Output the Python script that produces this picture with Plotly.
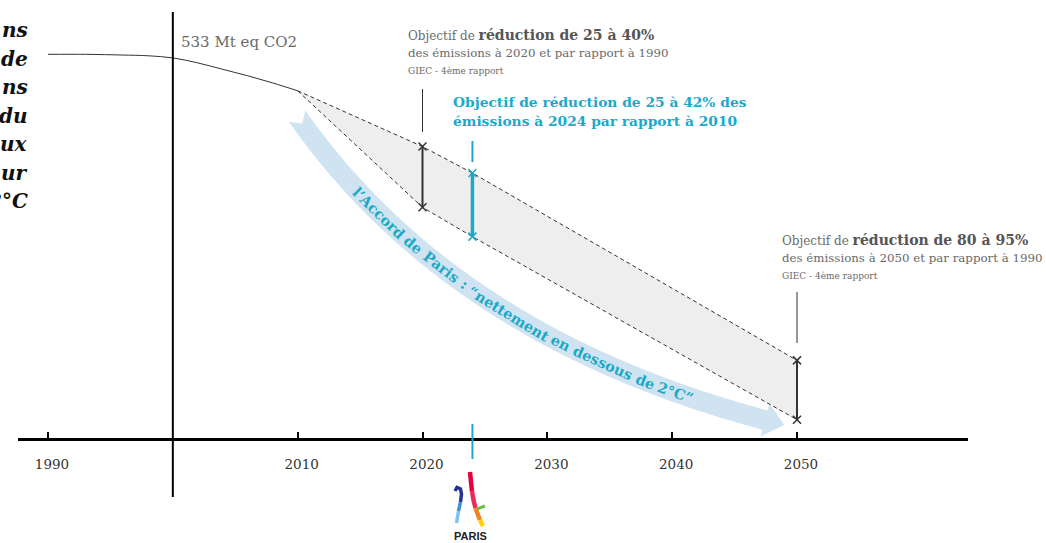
import numpy as np
import plotly.graph_objects as go

W, H = 1046, 543

# ---------------- data ----------------
HIST_YEARS = [1990, 1993, 1996, 1998, 2000, 2002, 2004, 2006, 2008, 2010]
HIST_VALUES = [538, 538, 537, 536, 533, 526, 517, 508, 498, 487]
BASE_YEAR = 2000
BASE_LABEL = "533 Mt eq CO2"

TARGET_YEARS = [2010, 2020, 2024, 2050]
UPPER_VALUES = [487, 409, 372, 110]
LOWER_VALUES = [487, 324, 283, 27]

TICK_YEARS = [1990, 2010, 2020, 2030, 2040, 2050]
TICK_LABELS = ["1990", "2010", "2020", "2030", "2040", "2050"]

ARROW_YEARS = [2009.95, 2022.33, 2047.44]     # quadratic bezier control points
ARROW_VALUES = [451.7, 143.2, 26.6]
ARROW_TEXT = ["l’Accord", "de", "Paris", ":", "“nettement", "en", "dessous", "de", "2°C”"]

LEFT_FRAGMENTS = ["ns", "de", "ns", "du", "ux", "ur", "2°C"]

# ---------------- styling / geometry ----------------
SERIF = "DejaVu Serif"
CYAN = "#1ba9c9"
DARK = "#333333"
GREY_TXT = "#6a6a6a"

PX_PER_YEAR = 12.4833
PX_1990 = 48
AXIS_PY = 439
PX_PER_MT = 0.715
DOM_L, DOM_R = 18, 968

xr0 = 1990 - (PX_1990 - DOM_L) / PX_PER_YEAR
xr1 = 1990 + (DOM_R - PX_1990) / PX_PER_YEAR
yr0 = -(H - AXIS_PY) / PX_PER_MT
yr1 = AXIS_PY / PX_PER_MT


def to_px(year, val):
    return PX_1990 + (np.asarray(year) - 1990) * PX_PER_YEAR, AXIS_PY - np.asarray(val) * PX_PER_MT


def from_px(px, py):
    return 1990 + (np.asarray(px) - PX_1990) / PX_PER_YEAR, (AXIS_PY - np.asarray(py)) / PX_PER_MT


def P(px, py):
    return px / W, 1 - py / H


fig = go.Figure()

# ---------------- arrow (below everything) ----------------
cx, cy = to_px(ARROW_YEARS, ARROW_VALUES)
p0, p1, p2 = [np.array([cx[i], cy[i]]) for i in range(3)]
t = np.linspace(0, 1, 400)[:, None]
pts = (1 - t) ** 2 * p0 + 2 * (1 - t) * t * p1 + t ** 2 * p2
der = 2 * (1 - t) * (p1 - p0) + 2 * t * (p2 - p1)
dirs = der / np.linalg.norm(der, axis=1)[:, None]
nrm = np.column_stack([-dirs[:, 1], dirs[:, 0]])
hw, hh, hl, notch = 10, 17, 20, 9
edge_a = pts + hw * nrm
edge_b = pts - hw * nrm
poly = list(edge_a)
poly.append(p2 + hh * nrm[-1])
poly.append(p2 + hl * dirs[-1])
poly.append(p2 - hh * nrm[-1])
poly += list(edge_b[::-1])
poly.append(p0 + notch * dirs[0])
poly = np.array(poly)
ax_, ay_ = from_px(poly[:, 0], poly[:, 1])
path = "M " + " L ".join(f"{a:.4f},{b:.4f}" for a, b in zip(ax_, ay_)) + " Z"

shapes = [dict(type="path", path=path, xref="x", yref="y", fillcolor="#cfe4f0",
               line=dict(width=0), layer="below")]

# text along the arrow
seg = np.linalg.norm(np.diff(pts, axis=0), axis=1)
arc = np.concatenate([[0], np.cumsum(seg)])


def nearest(px, py):
    return int(np.argmin((pts[:, 0] - px) ** 2 + (pts[:, 1] - py) ** 2))


s_start = arc[nearest(352, 191)]
s_end = arc[nearest(692, 396)]

CW = {"l": 0.40, "’": 0.36, "A": 0.78, "c": 0.60, "o": 0.66, "r": 0.52, "d": 0.72, "e": 0.64,
      "P": 0.76, "a": 0.64, "i": 0.40, "s": 0.56, ":": 0.38, "“": 0.48, "n": 0.72, "t": 0.46,
      "m": 1.06, "u": 0.72, "2": 0.70, "°": 0.50, "C": 0.76, "”": 0.48}
SPACE = 0.34
widths = [sum(CW.get(c, 0.65) for c in w) for w in ARROW_TEXT]
total = sum(widths) + SPACE * (len(ARROW_TEXT) - 1)
fsize = (s_end - s_start) / total
annotations = []
pos = s_start
for w, wd in zip(ARROW_TEXT, widths):
    center = pos + wd * fsize / 2
    i = int(np.argmin(np.abs(arc - center)))
    ang = np.degrees(np.arctan2(dirs[i, 1], dirs[i, 0]))
    xx, yy = from_px(pts[i, 0], pts[i, 1])
    annotations.append(dict(x=float(xx), y=float(yy), xref="x", yref="y", text=f"<b>{w}</b>",
                            showarrow=False, textangle=float(ang), xanchor="center", yanchor="middle",
                            font=dict(family=SERIF, size=float(fsize), color=CYAN)))
    pos += (wd + SPACE) * fsize

# ---------------- traces ----------------
fig.add_trace(go.Scatter(
    x=TARGET_YEARS + TARGET_YEARS[::-1], y=UPPER_VALUES + LOWER_VALUES[::-1],
    fill="toself", fillcolor="#eeeeee", line=dict(width=0), mode="lines", hoverinfo="skip"))
fig.add_trace(go.Scatter(x=HIST_YEARS, y=HIST_VALUES, mode="lines",
                         line=dict(color=DARK, width=1, shape="spline"), hoverinfo="skip"))
for series in (UPPER_VALUES, LOWER_VALUES):
    fig.add_trace(go.Scatter(x=TARGET_YEARS, y=series, mode="lines",
                             line=dict(color=DARK, width=1, dash="4px,3px"), hoverinfo="skip"))

for idx, col, lw in ((1, DARK, 2), (3, DARK, 2), (2, CYAN, 3.5)):
    yr = TARGET_YEARS[idx]
    fig.add_trace(go.Scatter(
        x=[yr, yr], y=[UPPER_VALUES[idx], LOWER_VALUES[idx]], mode="lines+markers",
        line=dict(color=col, width=lw),
        marker=dict(symbol="x-thin", size=8, color=col, line=dict(color=col, width=1.5)),
        hoverinfo="skip"))

# ---------------- shapes: axes, leaders ----------------
_, v_top = from_px(0, 12)
_, v_bot = from_px(0, 497)
shapes.append(dict(type="line", xref="x", yref="y", x0=BASE_YEAR, x1=BASE_YEAR, y0=v_bot, y1=v_top,
                   line=dict(color="black", width=2)))
for yr, a, b, col, lw in ((2020, 89, 132, DARK, 1), (2050, 292, 343, DARK, 1),
                          (2024, 141, 162, CYAN, 2), (2024, 424, 459, CYAN, 2)):
    _, va = from_px(0, a)
    _, vb = from_px(0, b)
    shapes.append(dict(type="line", xref="x", yref="y", x0=yr, x1=yr, y0=va, y1=vb,
                       line=dict(color=col, width=lw)))


# Paris logo (simplified)
def pline(pts_, col, w):
    d = "M " + " L ".join(f"{P(a, b)[0]:.5f},{P(a, b)[1]:.5f}" for a, b in pts_)
    shapes.append(dict(type="path", xref="paper", yref="paper", path=d,
                       line=dict(color=col, width=w)))


pline([(470, 472), (471, 482), (472, 491)], "#e4003b", 4.5)
pline([(472, 491), (473.5, 500), (475.5, 508)], "#ee2a5a", 4.5)
pline([(475.5, 508), (478, 515), (480, 520)], "#f58220", 4.5)
pline([(480, 520), (481.5, 523), (483, 526)], "#fdd000", 4.5)
pline([(455, 491), (457, 487.5), (460.5, 489), (461.5, 494), (460.5, 502)], "#27348b", 3.5)
pline([(460.5, 502), (458.5, 511)], "#3f8fd2", 3.5)
pline([(458.5, 511), (456.5, 523)], "#7cc4ef", 3.5)
pline([(477, 509), (485, 506)], "#6abf4b", 3)

# ---------------- text annotations ----------------
def note(px, py, text, size, color, anchor="left", family=SERIF):
    x, y = P(px, py)
    annotations.append(dict(x=x, y=y, xref="paper", yref="paper", text=text, showarrow=False,
                            xanchor=anchor, yanchor="middle", align=anchor,
                            font=dict(family=family, size=size, color=color)))


note(179, 42, BASE_LABEL, 15, GREY_TXT)

BOLD_SPAN = "<b><span style='font-size:14px;color:#555555'>{}</span></b>"
note(406, 35, "Objectif de " + BOLD_SPAN.format("réduction de 25 à 40%"), 12, GREY_TXT)
note(406, 53, "des émissions à 2020 et par rapport à 1990", 11.8, GREY_TXT)
note(406, 71, "GIEC - 4ème rapport", 9, GREY_TXT)

note(451, 102, "<b>Objectif de réduction de 25 à 42% des</b>", 13.8, CYAN)
note(451, 121, "<b>émissions à 2024 par rapport à 2010</b>", 13.8, CYAN)

note(780, 240, "Objectif de " + BOLD_SPAN.format("réduction de 80 à 95%"), 12, GREY_TXT)
note(780, 258, "des émissions à 2050 et par rapport à 1990", 11.8, GREY_TXT)
note(780, 276, "GIEC - 4ème rapport", 9, GREY_TXT)

for i, frag in enumerate(LEFT_FRAGMENTS):
    note(30, 30 + i * 28.5, f"<b><i>{frag}</i></b>", 20, "#111111", anchor="right")

note(470, 536, "<b>PARIS</b>", 11, "#222222", anchor="center", family="Liberation Sans")

fig.update_layout(
    width=W, height=H, margin=dict(l=0, r=0, t=0, b=0),
    paper_bgcolor="white", plot_bgcolor="white", showlegend=False,
    shapes=shapes, annotations=annotations, hovermode=False,
    xaxis=dict(range=[xr0, xr1], domain=[DOM_L / W, DOM_R / W], anchor="free",
               position=1 - AXIS_PY / H, showline=True, linecolor="black", linewidth=2.5,
               ticks="inside", ticklen=6, tickwidth=1.5, tickcolor="black",
               tickvals=TICK_YEARS, ticktext=TICK_LABELS, ticklabelshift=4, ticklabelstandoff=12,
               tickfont=dict(family=SERIF, size=13.5, color="#333"),
               showgrid=False, zeroline=False, fixedrange=True),
    yaxis=dict(range=[yr0, yr1], domain=[0, 1], visible=False, showgrid=False,
               zeroline=False, fixedrange=True),
)

fig.write_html("out.html", config={"displayModeBar": False},
               post_script="document.body.style.margin='0';document.body.style.overflow='hidden';")
